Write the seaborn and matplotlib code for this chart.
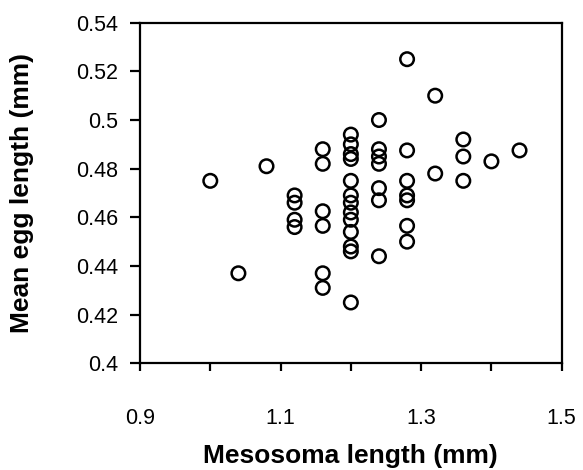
import matplotlib
matplotlib.use("Agg")
import matplotlib.pyplot as plt
import seaborn as sns
import pandas as pd

# Data
mesosoma_length = [
    1.00,
    1.04,
    1.08,
    1.12, 1.12, 1.12, 1.12,
    1.16, 1.16, 1.16, 1.16, 1.16, 1.16,
    1.20, 1.20, 1.20, 1.20, 1.20, 1.20, 1.20, 1.20, 1.20, 1.20, 1.20, 1.20, 1.20,
    1.24, 1.24, 1.24, 1.24, 1.24, 1.24, 1.24,
    1.28, 1.28, 1.28, 1.28, 1.28, 1.28, 1.28,
    1.32, 1.32,
    1.36, 1.36, 1.36,
    1.40,
    1.44,
]
mean_egg_length = [
    0.475,
    0.437,
    0.481,
    0.469, 0.466, 0.459, 0.456,
    0.488, 0.482, 0.4625, 0.4565, 0.437, 0.431,
    0.494, 0.490, 0.486, 0.484, 0.475, 0.469, 0.466, 0.462, 0.459, 0.454, 0.448, 0.446, 0.425,
    0.500, 0.488, 0.485, 0.482, 0.472, 0.467, 0.444,
    0.525, 0.4875, 0.475, 0.469, 0.467, 0.4565, 0.450,
    0.510, 0.478,
    0.492, 0.485, 0.475,
    0.483,
    0.4875,
]
x_major_ticks = [0.9, 1.1, 1.3, 1.5]
x_tick_labels = ["0.9", "1.1", "1.3", "1.5"]
x_minor_ticks = [1.0, 1.2, 1.4]
y_ticks = [0.40, 0.42, 0.44, 0.46, 0.48, 0.50, 0.52, 0.54]
y_tick_labels = ["0.4", "0.42", "0.44", "0.46", "0.48", "0.5", "0.52", "0.54"]
x_label = "Mesosoma length (mm)"
y_label = "Mean egg length (mm)"

df = pd.DataFrame({"x": mesosoma_length, "y": mean_egg_length})

sns.set_style("ticks")
plt.rcParams["font.family"] = ["Liberation Sans", "DejaVu Sans"]
plt.rcParams["text.color"] = "black"
plt.rcParams["axes.labelcolor"] = "black"
plt.rcParams["xtick.color"] = "black"
plt.rcParams["ytick.color"] = "black"

fig = plt.figure(figsize=(5.83, 4.70), dpi=100)
ax = fig.add_axes([140 / 583, 1 - 363.3 / 470, (561.7 - 140) / 583, (363.3 - 22.7) / 470])

sns.scatterplot(data=df, x="x", y="y", ax=ax, marker="o", s=95,
                facecolor="none", edgecolor="black", linewidth=1.8, legend=False)

ax.set_xlim(0.9, 1.5)
ax.set_ylim(0.40, 0.54)
ax.set_xticks(x_major_ticks)
ax.set_xticklabels(x_tick_labels)
ax.set_xticks(x_minor_ticks, minor=True)
ax.set_yticks(y_ticks)
ax.set_yticklabels(y_tick_labels)

for side in ["top", "right", "bottom", "left"]:
    ax.spines[side].set_visible(True)
    ax.spines[side].set_color("black")
    ax.spines[side].set_linewidth(1.6)

ax.tick_params(axis="x", which="both", direction="out", length=6, width=1.6,
               color="black", labelsize=15.5, pad=26, labelcolor="black")
ax.tick_params(axis="y", which="both", direction="out", length=7, width=1.6,
               color="black", labelsize=15.5, pad=9, labelcolor="black")

ax.set_xlabel(x_label, fontsize=19, fontweight="bold", color="black")
ax.set_ylabel(y_label, fontsize=19, fontweight="bold", color="black")
ax.xaxis.set_label_coords(0.5, -0.238)
ax.yaxis.set_label_coords(-0.252, 0.5)

ax.set_facecolor("white")
fig.patch.set_facecolor("white")

fig.savefig("out.png", dpi=100, facecolor="white")
